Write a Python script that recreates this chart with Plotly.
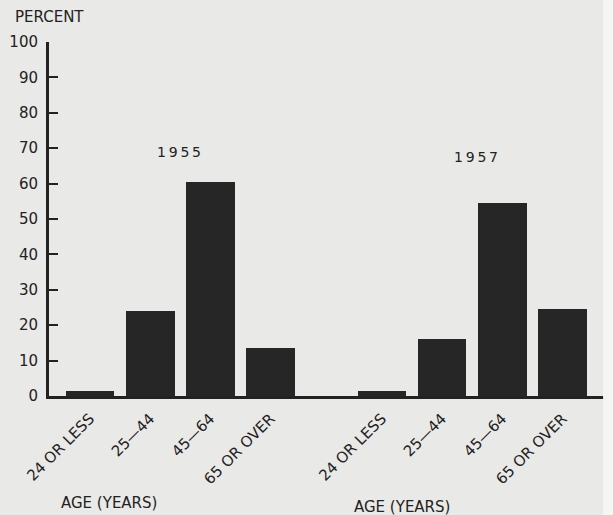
import plotly.graph_objects as go

# ---- data ----
age_groups = ["24 OR LESS", "25\u201444", "45\u201464", "65 OR OVER"]
years = ["1955", "1957"]
pct_1955 = [1.5, 24, 60.5, 13.5]
pct_1957 = [1.5, 16, 54.5, 24.5]
y_ticks = [0, 10, 20, 30, 40, 50, 60, 70, 80, 90, 100]

GROUP_GAP = 4.85
BAR_COLOR = "#262626"
INK = "#222222"
BG = "#e9e9e7"
FONT = "DejaVu Sans"

# label placements (data units / paper units)
year_label_pos = [(1.48, 68.9), (6.42, 67.5)]
age_title_pos = [(0.31, -0.302), (5.19, -0.314)]

fig = go.Figure()
tickvals, ticktext = [], []
for g, (yr, vals) in enumerate(zip(years, [pct_1955, pct_1957])):
    xs = [g * GROUP_GAP + i for i in range(len(age_groups))]
    tickvals += xs
    ticktext += age_groups
    fig.add_trace(go.Bar(x=xs, y=vals, width=0.81, marker=dict(color=BAR_COLOR, line=dict(width=0)),
                         name=yr, showlegend=False, hoverinfo="x+y"))
    yx, yy = year_label_pos[g]
    fig.add_annotation(x=yx, y=yy, text="\u2009".join(yr), showarrow=False,
                       xanchor="center", yanchor="middle",
                       font=dict(family=FONT, size=14, color=INK))
    ax_, ay_ = age_title_pos[g]
    fig.add_annotation(x=ax_, y=ay_, yref="paper", text="AGE (YEARS)", showarrow=False,
                       xanchor="center", yanchor="middle",
                       font=dict(family=FONT, size=15, color=INK))

fig.add_annotation(xref="paper", yref="paper", x=-0.0645, y=1.0706, xanchor="left",
                   yanchor="middle",
                   text="PERCENT", showarrow=False, font=dict(family=FONT, size=15, color=INK))

# page edge strip at right
fig.add_shape(type="rect", xref="paper", yref="paper", x0=0.993, x1=1.02, y0=-0.4, y1=1.2,
              fillcolor="#f5f5f3", line=dict(width=0), layer="above")

fig.update_layout(
    width=613, height=515,
    margin=dict(l=49, r=6, t=42, b=119),
    paper_bgcolor=BG, plot_bgcolor=BG,
    bargap=0,
    xaxis=dict(range=[-0.68, 8.59], tickmode="array", tickvals=tickvals, ticktext=ticktext,
               tickangle=-45, showgrid=False, zeroline=False, showline=True,
               linecolor=INK, linewidth=3, ticks="", ticklabelstandoff=5,
               tickfont=dict(family=FONT, size=15, color=INK)),
    yaxis=dict(range=[0, 100], tickmode="array", tickvals=y_ticks, showgrid=False,
               zeroline=False, showline=True, linecolor=INK, linewidth=3,
               ticks="inside", ticklen=9, tickwidth=2, tickcolor=INK,
               ticklabelstandoff=5,
               tickfont=dict(family=FONT, size=15, color=INK)),
)

fig.write_html("out.html", config={"displayModeBar": False},
               post_script="document.body.style.margin='0px';document.body.style.background='#e9e9e7';")
